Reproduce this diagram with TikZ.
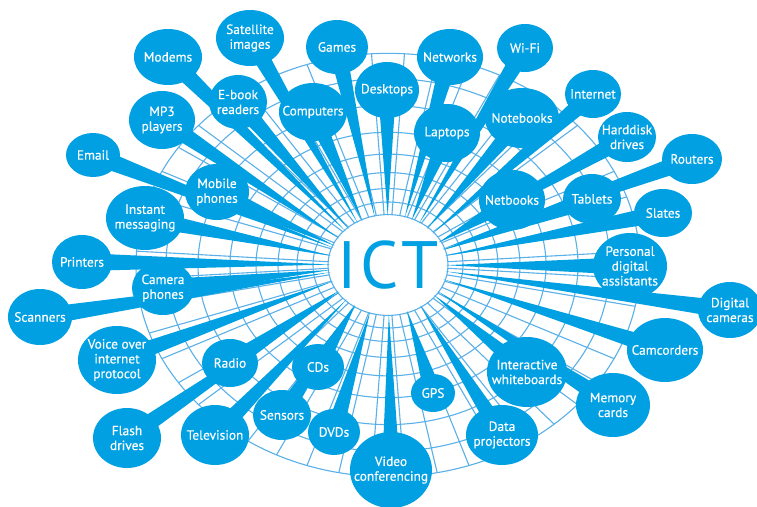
\documentclass[tikz,border=0pt]{standalone}
\usepackage{fontspec}
\setmainfont{PT Sans}
\newfontfamily\lblfont[FakeBold=0.35]{PT Sans}
\newfontfamily\ictfont[LetterSpace=6]{PT Sans}
\usetikzlibrary{calc}
\definecolor{icb}{RGB}{0,160,227}
\definecolor{web}{RGB}{90,176,232}
\pgfdeclarelayer{rings}\pgfdeclarelayer{tails}\pgfdeclarelayer{blobs}
\pgfsetlayers{rings,tails,blobs,main}
% #1 name, #2 x, #3 y, #4 rx, #5 ry, #6 text
\newcommand\bb[6]{%
  \node[lbl] (#1) at (#2,#3) {#6};
  \begin{pgfonlayer}{blobs}
    \fill[icb] (#1.center) ellipse [x radius=#4pt, y radius=#5pt];
  \end{pgfonlayer}
  \begin{pgfonlayer}{tails}
    \fill[icb] let \p1=($(#1.center)-(ict.center)$), \n1={atan2(\y1,\x1)} in
      ($(ict.center)+(\n1:58pt and 49pt)$) -- ($(#1.center)+(\n1+90:9pt)$)
      -- ($(#1.center)+(\n1-90:9pt)$) -- cycle;
  \end{pgfonlayer}}
\begin{document}
\begin{tikzpicture}[x=1pt,y=-1pt,
  lbl/.style={text=white,align=center,inner sep=0pt,font=\lblfont\fontsize{13.4}{14.8}\selectfont},
  webline/.style={draw=web,line width=1.1pt}]
\useasboundingbox (0,0) rectangle (757,506);
\node[text=icb,inner sep=0pt,font=\ictfont\fontsize{67}{67}\selectfont] (ict) at (388,265) {ICT};
\begin{pgfonlayer}{rings}
  \fill[white] (0,0) rectangle (757,506);
  \foreach \r in {60,75,91,110,132,158,190,222,252}
    \draw[webline] (ict.center) ellipse [x radius=\r pt, y radius={0.84*\r pt}];
  \foreach \a in {3.75,11.25,...,360}
    \draw[webline] ($(ict.center)+(\a:60pt and 50.4pt)$) -- ($(ict.center)+(\a:252pt and 211.7pt)$);
\end{pgfonlayer}
\bb{sat}{250}{38}{34}{28}{Satellite\\images}
\bb{mod}{168}{57}{34}{28}{Modems}
\bb{gam}{337}{47}{31}{27}{Games}
\bb{net}{450}{57}{33}{28}{Networks}
\bb{wif}{525}{48}{28}{24}{Wi-Fi}
\bb{des}{387}{90}{32}{28}{Desktops}
\bb{ebk}{238}{102}{29}{27}{E-book\\readers}
\bb{com}{313}{112}{34}{29}{Computers}
\bb{lap}{447}{133}{33}{29}{Laptops}
\bb{nbk}{522}{118}{37}{30}{Notebooks}
\bb{int}{593}{94}{28}{24}{Internet}
\bb{hdd}{627}{137}{29}{25}{Harddisk\\drives}
\bb{rou}{692}{159}{30}{25}{Routers}
\bb{mp3}{162}{120}{33}{29}{MP3\\players}
\bb{eml}{93}{155}{27}{22}{Email}
\bb{mob}{217}{192}{32}{28}{Mobile\\phones}
\bb{ntb}{512}{200}{33}{30}{Netbooks}
\bb{tab}{592}{199}{29}{25}{Tablets}
\bb{sla}{663}{213}{29}{24}{Slates}
\bb{ins}{145}{218}{39}{32}{Instant\\messaging}
\bb{pri}{82}{262}{30}{27}{Printers}
\bb{pda}{630}{266}{37}{33}{Personal\\digital\\assistants}
\bb{cam}{163}{288}{31}{27}{Camera\\phones}
\bb{sca}{40}{317}{32}{28}{Scanners}
\bb{dig}{730}{310}{32}{28}{Digital\\cameras}
\bb{voi}{117}{360}{39}{34}{Voice over\\internet\\protocol}
\bb{rad}{230}{363}{28}{24}{Radio}
\bb{cds}{318}{367}{26}{23}{CDs}
\bb{ccd}{665}{350}{38}{32}{Camcorders}
\bb{iwb}{527}{372}{40}{35}{Interactive\\whiteboards}
\bb{gps}{433}{393}{22}{19}{GPS}
\bb{mem}{613}{405}{37}{32}{Memory\\cards}
\bb{sen}{282}{415}{29}{25}{Sensors}
\bb{dvd}{334}{432}{26}{23}{DVDs}
\bb{fla}{127}{438}{34}{30}{Flash\\drives}
\bb{tel}{215}{435}{34}{30}{Television}
\bb{dat}{502}{435}{36}{30}{Data\\projectors}
\bb{vid}{391}{470}{41}{38}{Video\\conferencing}
\end{tikzpicture}
\end{document}
